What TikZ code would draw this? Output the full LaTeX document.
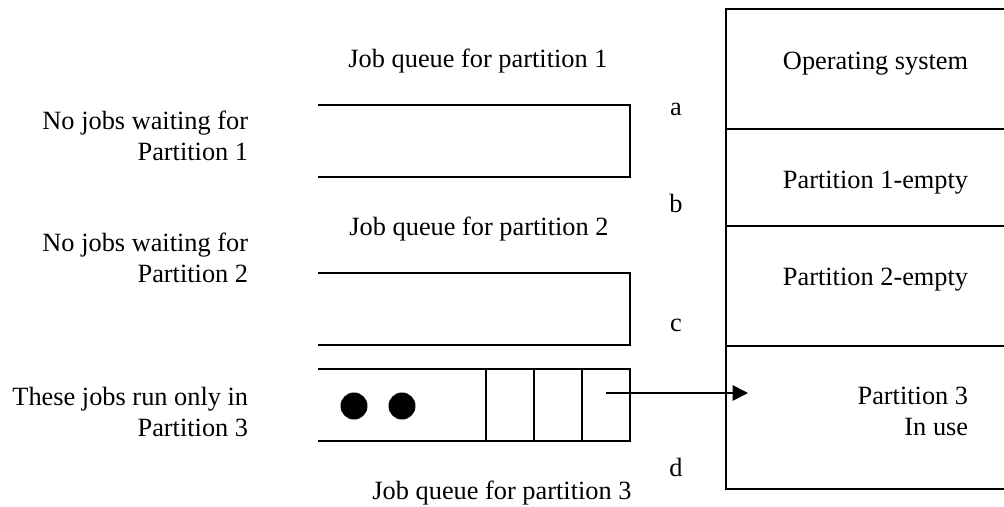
\documentclass[tikz,border=0pt]{standalone}
\usepackage{fontspec}
\setmainfont{Liberation Serif}
\usetikzlibrary{positioning, calc, arrows.meta}

\tikzset{
  queue/.style={minimum width=4.992cm, minimum height=1.152cm, inner sep=0pt, outer sep=0pt},
  membox/.style={draw, minimum width=4.48cm, inner sep=0pt, outer sep=0pt},
  memtext/.style={anchor=base east, align=right, inner sep=0pt},
  sidenote/.style={anchor=base east, align=right, inner sep=0pt},
  qtitle/.style={anchor=base, inner sep=0pt},
  addrmark/.style={anchor=base, inner sep=0pt},
  jobdot/.style={circle, fill=black, minimum size=0.432cm, inner sep=0pt},
}

\begin{document}
\begin{tikzpicture}[x=0.016cm, y=-0.016cm, line width=0.8pt, font=\fontsize{12}{14}\selectfont]
\useasboundingbox (0,0) rectangle (1004,506);

% Draw memory partitions, stacked top to bottom
\node[membox, minimum height=1.92cm] (os) at (866,69) {};
\node[membox, minimum height=1.552cm, below=0pt of os] (p1) {};
\node[membox, minimum height=1.92cm, below=0pt of p1] (p2) {};
\node[membox, minimum height=2.288cm, below=0pt of p2] (p3) {};

% (base of a two-line node sits on its last line)
\node[memtext] (ostext) at (969,69) {Operating system};
\node[memtext] (p1text) at (969,188) {Partition 1-empty};
\node[memtext] (p2text) at (969,285) {Partition 2-empty};
\node[memtext] (p3text) at (969,435) {Partition 3\\In use};

% Addresses at the partition boundaries
\node[addrmark] (adra) at (676,115) {a};
\node[addrmark] (adrb) at (676,212) {b};
\node[addrmark] (adrc) at (676,331) {c};
\node[addrmark] (adrd) at (676,476) {d};

% Draw the three job queues (open on the left)
\node[queue] (q1) at (474,141) {};
\node[queue] (q2) at (474,309) {};
\node[queue] (q3) at (474,405) {};
\foreach \q in {q1,q2,q3}
  \draw (\q.north west) -- (\q.north east) -- (\q.south east) -- (\q.south west);

% Slots of queue 3
\foreach \dx in {168,216,264}
  \draw ($(q3.north west)+(\dx,0)$) -- ($(q3.south west)+(\dx,0)$);

% Waiting jobs
\node[jobdot] (job1) at (354,406) {};
\node[jobdot] (job2) at (402,406) {};

\node[qtitle] (q1title) at (478,67) {Job queue for partition 1};
\node[qtitle] (q2title) at (479,235) {Job queue for partition 2};
\node[qtitle] (q3title) at (502,499) {Job queue for partition 3};

\node[sidenote] (note1) at (249,160) {No jobs waiting for\\Partition 1};
\node[sidenote] (note2) at (249,282) {No jobs waiting for\\Partition 2};
\node[sidenote] (note3) at (249,436) {These jobs run only in\\Partition 3};

% Job leaves queue 3 for partition 3
\coordinate (sendfrom) at (606,393);
\coordinate (p3in) at (748,393);
\draw[-{Triangle[length=7pt, width=7pt]}] (sendfrom) -- (p3in);
\end{tikzpicture}
\end{document}
